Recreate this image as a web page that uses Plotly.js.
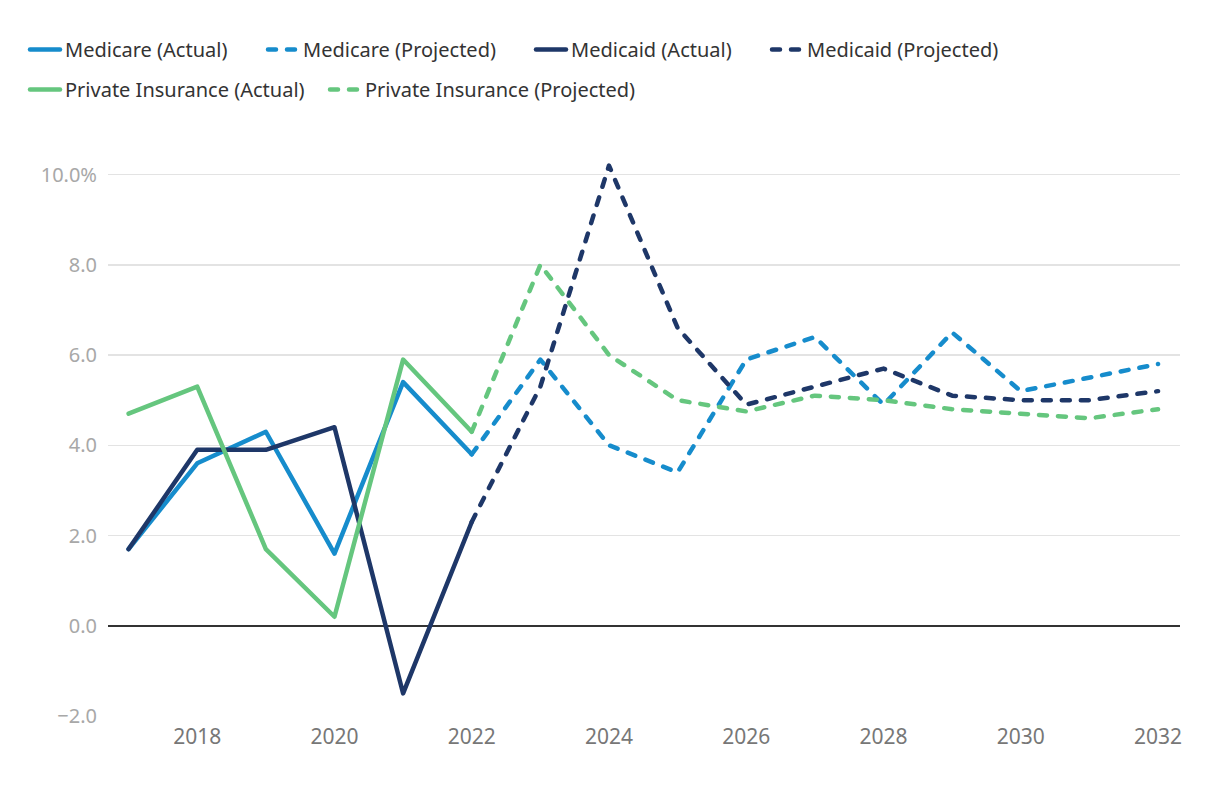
<!DOCTYPE html>
<html>
<head>
<meta charset="utf-8">
<script src="https://cdn.plot.ly/plotly-3.0.1.min.js"></script>
<style>
  html, body { margin: 0; padding: 0; background: #fff; }
  #chart { width: 1220px; height: 786px; }
  .js-line { stroke-linecap: round; stroke-linejoin: round; }
</style>
</head>
<body>
<div id="chart"></div>
<script>
const actualYears = [2017, 2018, 2019, 2020, 2021, 2022];
const projectedYears = [2022, 2023, 2024, 2025, 2026, 2027, 2028, 2029, 2030, 2031, 2032];

const medicareActual = [1.7, 3.6, 4.3, 1.6, 5.4, 3.8];
const medicareProjected = [3.8, 5.9, 4.0, 3.4, 5.9, 6.4, 4.9, 6.5, 5.2, 5.5, 5.8];
const medicaidActual = [1.7, 3.9, 3.9, 4.4, -1.5, 2.3];
const medicaidProjected = [2.3, 5.3, 10.2, 6.6, 4.9, 5.3, 5.7, 5.1, 5.0, 5.0, 5.2];
const privateActual = [4.7, 5.3, 1.7, 0.2, 5.9, 4.3];
const privateProjected = [4.3, 8.0, 6.0, 5.0, 4.75, 5.1, 5.0, 4.8, 4.7, 4.6, 4.8];

const xTickVals = [2018, 2020, 2022, 2024, 2026, 2028, 2030, 2032];
const xTickText = ["2018", "2020", "2022", "2024", "2026", "2028", "2030", "2032"];
const yTickVals = [-2, 0, 2, 4, 6, 8, 10];
const yTickText = ["\u22122.0", "0.0", "2.0", "4.0", "6.0", "8.0", "10.0%"];

const cMedicare = "#168ccc";
const cMedicaid = "#1e3768";
const cPrivate = "#65c67e";
const dash = "8px,11px";
const w = 4.5;

const traces = [
  {x: actualYears, y: medicareActual, name: "Medicare (Actual)", mode: "lines", line: {color: cMedicare, width: w}, legend: "legend"},
  {x: projectedYears, y: medicareProjected, name: "Medicare (Projected)", mode: "lines", line: {color: cMedicare, width: w, dash: dash}, legend: "legend2"},
  {x: actualYears, y: medicaidActual, name: "Medicaid (Actual)", mode: "lines", line: {color: cMedicaid, width: w}, legend: "legend3"},
  {x: projectedYears, y: medicaidProjected, name: "Medicaid (Projected)", mode: "lines", line: {color: cMedicaid, width: w, dash: dash}, legend: "legend4"},
  {x: actualYears, y: privateActual, name: "Private Insurance (Actual)", mode: "lines", line: {color: cPrivate, width: w}, legend: "legend5"},
  {x: projectedYears, y: privateProjected, name: "Private Insurance (Projected)", mode: "lines", line: {color: cPrivate, width: w, dash: dash}, legend: "legend6"}
];

function legendAt(px, py) {
  return {
    orientation: "h",
    xref: "container",
    yref: "container",
    x: px / 1220,
    y: 1 - py / 786,
    xanchor: "left",
    yanchor: "top",
    font: {family: "'Noto Sans', sans-serif", size: 20, color: "#333333"},
    traceorder: "normal",
    bgcolor: "rgba(0,0,0,0)",
    itemwidth: 30
  };
}

const layout = {
  width: 1220,
  height: 786,
  paper_bgcolor: "#ffffff",
  plot_bgcolor: "#ffffff",
  font: {family: "'Noto Sans', sans-serif", color: "#333333"},
  margin: {l: 108, r: 40, t: 152, b: 70},
  showlegend: true,
  legend: legendAt(25, 30),
  legend2: legendAt(263, 30),
  legend3: legendAt(531, 30),
  legend4: legendAt(767, 30),
  legend5: legendAt(25, 70),
  legend6: legendAt(325, 70),
  xaxis: {
    range: [2016.7, 2032.32],
    tickvals: xTickVals,
    ticktext: xTickText,
    showgrid: false,
    zeroline: false,
    showline: false,
    ticks: "",
    ticklabelstandoff: 6,
    tickfont: {size: 21, color: "#777777"},
    fixedrange: true
  },
  yaxis: {
    range: [-2, 10.5],
    tickvals: yTickVals,
    ticktext: yTickText,
    showgrid: true,
    gridcolor: "#e3e3e3",
    gridwidth: 1.5,
    zeroline: true,
    zerolinecolor: "#333333",
    zerolinewidth: 1.5,
    showline: false,
    ticks: "",
    ticklabelstandoff: 10,
    tickfont: {size: 20, color: "#a8a8a8"},
    fixedrange: true
  }
};

Plotly.newPlot("chart", traces, layout, {displayModeBar: false, staticPlot: true});
</script>
</body>
</html>
